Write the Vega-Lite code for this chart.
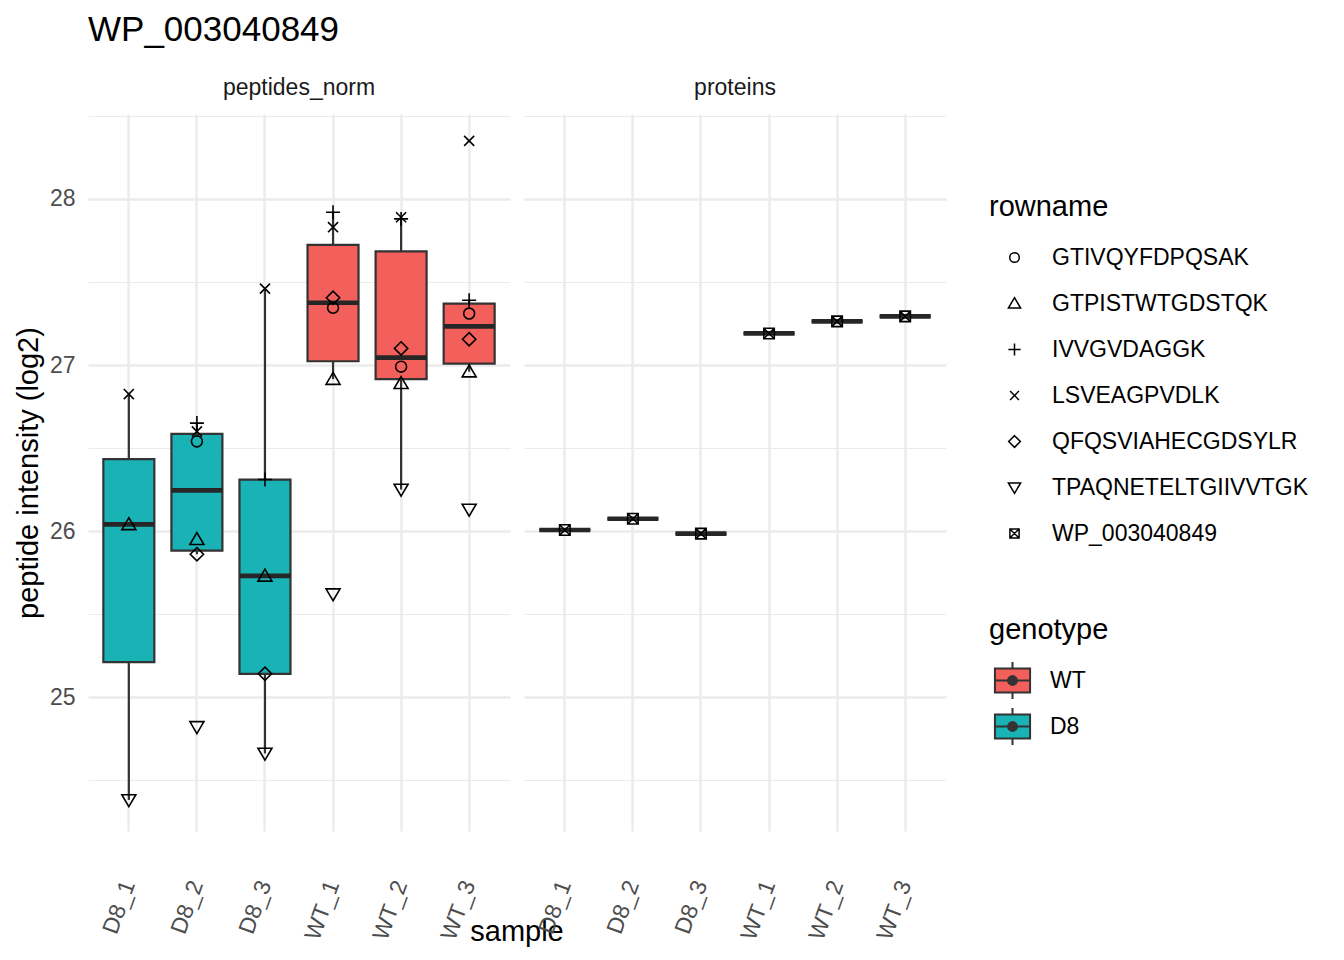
{
  "$schema": "https://vega.github.io/schema/vega-lite/v6.json",
  "padding": {"left": 14, "top": 13, "right": 10, "bottom": 10},
  "title": {"text": "WP_003040849", "anchor": "start", "frame": "group", "fontSize": 35, "fontWeight": "normal", "color": "#000000", "offset": 29},
  "config": {
    "font": "Liberation Sans",
    "view": {"stroke": null},
    "axis": {"domain": false, "ticks": false, "gridColor": "#EBEBEB", "gridWidth": 2.4, "labelColor": "#4D4D4D", "labelFontSize": 23, "titleFontSize": 29, "titleFontWeight": "normal", "titleColor": "#000000"},
    "legend": {"titleFontSize": 29, "titleFontWeight": "normal", "titleColor": "#000000", "labelFontSize": 23, "labelColor": "#000000", "labelLimit": 0}
  },
  "data": {
    "values": [
      {"sample": "D8_1", "panel": "peptides_norm", "genotype": "D8", "rowname": "LSVEAGPVDLK", "value": 26.825},
      {"sample": "D8_1", "panel": "peptides_norm", "genotype": "D8", "rowname": "GTPISTWTGDSTQK", "value": 26.04},
      {"sample": "D8_1", "panel": "peptides_norm", "genotype": "D8", "rowname": "TPAQNETELTGIIVVTGK", "value": 24.38},
      {"sample": "D8_2", "panel": "peptides_norm", "genotype": "D8", "rowname": "IVVGVDAGGK", "value": 26.65},
      {"sample": "D8_2", "panel": "peptides_norm", "genotype": "D8", "rowname": "LSVEAGPVDLK", "value": 26.6},
      {"sample": "D8_2", "panel": "peptides_norm", "genotype": "D8", "rowname": "GTIVQYFDPQSAK", "value": 26.54},
      {"sample": "D8_2", "panel": "peptides_norm", "genotype": "D8", "rowname": "GTPISTWTGDSTQK", "value": 25.95},
      {"sample": "D8_2", "panel": "peptides_norm", "genotype": "D8", "rowname": "QFQSVIAHECGDSYLR", "value": 25.86},
      {"sample": "D8_2", "panel": "peptides_norm", "genotype": "D8", "rowname": "TPAQNETELTGIIVVTGK", "value": 24.82},
      {"sample": "D8_3", "panel": "peptides_norm", "genotype": "D8", "rowname": "LSVEAGPVDLK", "value": 27.46},
      {"sample": "D8_3", "panel": "peptides_norm", "genotype": "D8", "rowname": "IVVGVDAGGK", "value": 26.31},
      {"sample": "D8_3", "panel": "peptides_norm", "genotype": "D8", "rowname": "GTPISTWTGDSTQK", "value": 25.73},
      {"sample": "D8_3", "panel": "peptides_norm", "genotype": "D8", "rowname": "QFQSVIAHECGDSYLR", "value": 25.14},
      {"sample": "D8_3", "panel": "peptides_norm", "genotype": "D8", "rowname": "TPAQNETELTGIIVVTGK", "value": 24.66},
      {"sample": "WT_1", "panel": "peptides_norm", "genotype": "WT", "rowname": "IVVGVDAGGK", "value": 27.92},
      {"sample": "WT_1", "panel": "peptides_norm", "genotype": "WT", "rowname": "LSVEAGPVDLK", "value": 27.83},
      {"sample": "WT_1", "panel": "peptides_norm", "genotype": "WT", "rowname": "QFQSVIAHECGDSYLR", "value": 27.405},
      {"sample": "WT_1", "panel": "peptides_norm", "genotype": "WT", "rowname": "GTIVQYFDPQSAK", "value": 27.345},
      {"sample": "WT_1", "panel": "peptides_norm", "genotype": "WT", "rowname": "GTPISTWTGDSTQK", "value": 26.915},
      {"sample": "WT_1", "panel": "peptides_norm", "genotype": "WT", "rowname": "TPAQNETELTGIIVVTGK", "value": 25.62},
      {"sample": "WT_2", "panel": "peptides_norm", "genotype": "WT", "rowname": "IVVGVDAGGK", "value": 27.88},
      {"sample": "WT_2", "panel": "peptides_norm", "genotype": "WT", "rowname": "LSVEAGPVDLK", "value": 27.89},
      {"sample": "WT_2", "panel": "peptides_norm", "genotype": "WT", "rowname": "QFQSVIAHECGDSYLR", "value": 27.1},
      {"sample": "WT_2", "panel": "peptides_norm", "genotype": "WT", "rowname": "GTIVQYFDPQSAK", "value": 26.99},
      {"sample": "WT_2", "panel": "peptides_norm", "genotype": "WT", "rowname": "GTPISTWTGDSTQK", "value": 26.89},
      {"sample": "WT_2", "panel": "peptides_norm", "genotype": "WT", "rowname": "TPAQNETELTGIIVVTGK", "value": 26.25},
      {"sample": "WT_3", "panel": "peptides_norm", "genotype": "WT", "rowname": "LSVEAGPVDLK", "value": 28.35},
      {"sample": "WT_3", "panel": "peptides_norm", "genotype": "WT", "rowname": "IVVGVDAGGK", "value": 27.39},
      {"sample": "WT_3", "panel": "peptides_norm", "genotype": "WT", "rowname": "GTIVQYFDPQSAK", "value": 27.31},
      {"sample": "WT_3", "panel": "peptides_norm", "genotype": "WT", "rowname": "QFQSVIAHECGDSYLR", "value": 27.155},
      {"sample": "WT_3", "panel": "peptides_norm", "genotype": "WT", "rowname": "GTPISTWTGDSTQK", "value": 26.96},
      {"sample": "WT_3", "panel": "peptides_norm", "genotype": "WT", "rowname": "TPAQNETELTGIIVVTGK", "value": 26.13},
      {"sample": "D8_1", "panel": "proteins", "genotype": "D8", "rowname": "WP_003040849", "value": 26.006},
      {"sample": "D8_2", "panel": "proteins", "genotype": "D8", "rowname": "WP_003040849", "value": 26.074},
      {"sample": "D8_3", "panel": "proteins", "genotype": "D8", "rowname": "WP_003040849", "value": 25.984},
      {"sample": "WT_1", "panel": "proteins", "genotype": "WT", "rowname": "WP_003040849", "value": 27.19},
      {"sample": "WT_2", "panel": "proteins", "genotype": "WT", "rowname": "WP_003040849", "value": 27.263},
      {"sample": "WT_3", "panel": "proteins", "genotype": "WT", "rowname": "WP_003040849", "value": 27.293}
    ]
  },
  "facet": {
    "column": {
      "field": "panel", "type": "nominal", "title": "sample",
      "header": {"titleOrient": "bottom", "labelOrient": "top", "titleFontSize": 29, "titleColor": "#000000", "titleFontWeight": "normal", "titlePadding": -35, "labelFontSize": 23, "labelColor": "#1A1A1A", "labelPadding": 14}
    }
  },
  "spacing": 14,
  "spec": {
    "width": 422,
    "height": 717,
    "encoding": {
      "x": {
        "field": "sample", "type": "nominal", "title": null,
        "scale": {"paddingInner": 0, "paddingOuter": 0.1},
        "axis": {"labelAngle": -70, "labelPadding": 50, "bandPosition": 0.5, "grid": true}
      },
      "y": {
        "field": "value", "type": "quantitative", "title": "peptide intensity (log2)",
        "scale": {"domain": [24.193, 28.512], "nice": false, "zero": false},
        "axis": {
          "values": [24.5, 25, 25.5, 26, 26.5, 27, 27.5, 28, 28.5],
          "labelExpr": "datum.value % 1 == 0 ? format(datum.value, 'd') : ''",
          "gridWidth": {"condition": {"test": "datum.value % 1 == 0", "value": 2.4}, "value": 1.2},
          "labelPadding": 13, "titlePadding": 6
        }
      }
    },
    "layer": [
      {
        "mark": {
          "type": "boxplot", "extent": 1.5, "outliers": false, "size": 51,
          "box": {"stroke": "#333333", "strokeWidth": 2.2},
          "median": false,
          "rule": {"color": "#333333", "strokeWidth": 2.2},
          "ticks": false
        },
        "encoding": {
          "color": {
            "field": "genotype", "type": "nominal", "title": "genotype",
            "scale": {"domain": ["WT", "D8"], "range": ["#F35F5B", "#19B3B6"]},
            "legend": {
              "orient": "none", "legendX": 901, "legendY": 502, "titlePadding": 16,
              "symbolType": "M-0.95,-0.65H0.95V0.65H-0.95ZM-0.95,0H0.95M0,-0.65V-1M0,0.65V1M0.24,0A0.24,0.24,0,1,1,-0.24,0A0.24,0.24,0,1,1,0.24,0ZM0.14,0A0.14,0.14,0,1,1,-0.14,0A0.14,0.14,0,1,1,0.14,0ZM0.05,0A0.05,0.05,0,1,1,-0.05,0A0.05,0.05,0,1,1,0.05,0Z",
              "symbolSize": 1369, "symbolStrokeColor": "#333333", "symbolStrokeWidth": 2, "symbolOpacity": 1,
              "symbolOffset": 4, "rowPadding": 1, "labelOffset": 18
            }
          }
        }
      },
      {
        "mark": {"type": "tick", "color": "#262626", "thickness": 4.7, "size": 51, "opacity": 1},
        "encoding": {
          "y": {"aggregate": "median", "field": "value", "type": "quantitative", "title": "peptide intensity (log2)"}
        }
      },
      {
        "mark": {"type": "point", "filled": false, "stroke": "#000000", "strokeWidth": 1.6, "opacity": 1, "size": 196},
        "encoding": {
          "shape": {
            "field": "rowname", "type": "nominal", "title": "rowname",
            "scale": {
              "domain": ["GTIVQYFDPQSAK", "GTPISTWTGDSTQK", "IVVGVDAGGK", "LSVEAGPVDLK", "QFQSVIAHECGDSYLR", "TPAQNETELTGIIVVTGK", "WP_003040849"],
              "range": [
                "M0.78,0A0.78,0.78,0,1,1,-0.78,0A0.78,0.78,0,1,1,0.78,0Z",
                "M0,-0.95L1,0.75L-1,0.75Z",
                "M-1,0H1M0,-1V1",
                "M-0.72,-0.72L0.72,0.72M-0.72,0.72L0.72,-0.72",
                "M0,-0.95L0.95,0L0,0.95L-0.95,0Z",
                "M0,0.95L1,-0.75L-1,-0.75Z",
                "M-0.75,-0.75H0.75V0.75H-0.75ZM-0.75,-0.75L0.75,0.75M-0.75,0.75L0.75,-0.75"
              ]
            },
            "legend": {"orient": "none", "legendX": 901, "legendY": 79, "titlePadding": 24, "symbolSize": 150, "symbolStrokeColor": "#000000", "symbolStrokeWidth": 1.5, "symbolOffset": 14, "labelOffset": 26, "rowPadding": 22}
          }
        }
      }
    ]
  }
}
